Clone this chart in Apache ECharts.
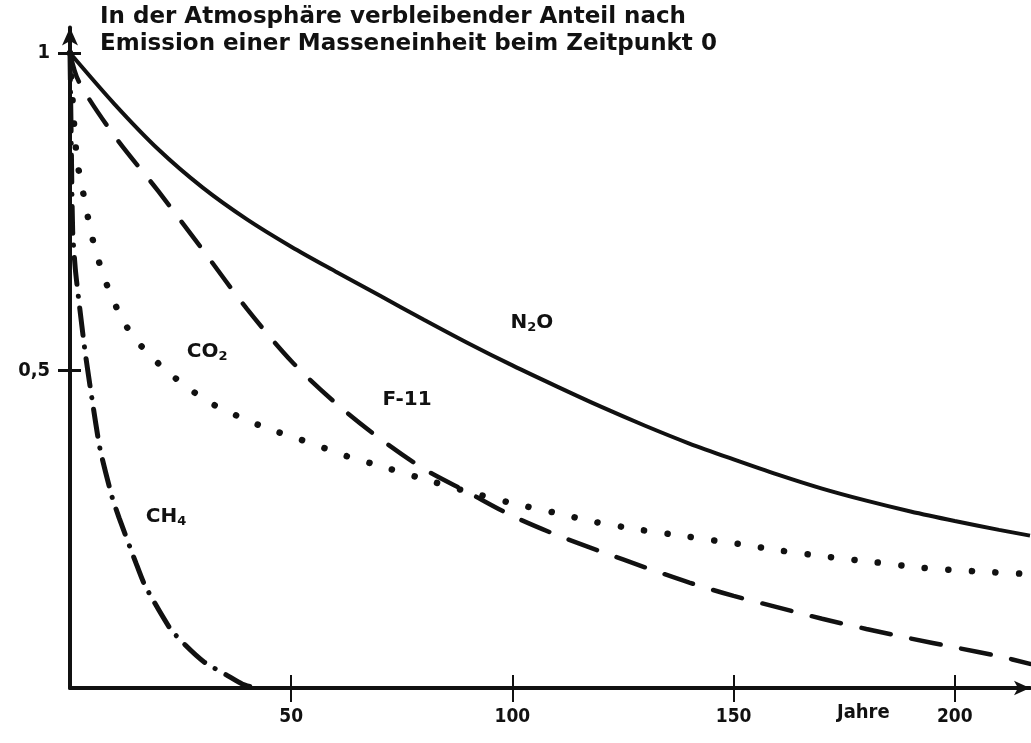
<!DOCTYPE html>
<html>
<head>
<meta charset="utf-8">
<script src="https://cdn.jsdelivr.net/npm/echarts@6/dist/echarts.min.js"></script>
<style>
html,body{margin:0;padding:0;background:#fff;}
#chart{width:1031px;height:743px;}
</style>
</head>
<body>
<div id="chart"></div>
<script>
// ---- data (years, remaining fraction) ----
const titleLines = ['In der Atmosphäre verbleibender Anteil nach', 'Emission einer Masseneinheit beim Zeitpunkt 0'];
const xTicks = [50, 100, 150, 200];
const yTicks = [0.5, 1];
const xName = 'Jahre';

const n2o = [[0,1],[10,0.92],[20,0.848],[30,0.788],[40,0.738],[50,0.695],[60,0.656],[70,0.618],[80,0.58],[90,0.543],[100,0.508],[110,0.475],[120,0.443],[130,0.413],[140,0.385],[150,0.36],[160,0.336],[170,0.314],[180,0.295],[190,0.278],[200,0.263],[210,0.249],[217,0.24]];
const f11 = [[0,1],[2,0.955],[10,0.87],[20,0.782],[30,0.69],[40,0.597],[50,0.515],[60,0.449],[70,0.393],[80,0.345],[90,0.308],[100,0.271],[110,0.241],[120,0.215],[130,0.19],[140,0.166],[150,0.145],[160,0.127],[170,0.109],[180,0.093],[190,0.078],[200,0.064],[210,0.05],[217,0.038]];
const co2 = [[0,1],[0.8,0.9],[1.6,0.83],[2.7,0.79],[3.8,0.75],[5,0.71],[6.6,0.67],[8.6,0.63],[10.8,0.595],[13.6,0.56],[17.2,0.53],[21.7,0.5],[26.2,0.475],[31.4,0.45],[36.4,0.433],[41.6,0.417],[47,0.403],[52.2,0.391],[57.4,0.378],[63,0.364],[68.5,0.353],[79,0.331],[90,0.309],[100,0.291],[109,0.277],[119,0.261],[129,0.249],[140,0.238],[151,0.227],[161,0.216],[172,0.206],[182,0.198],[193,0.189],[204,0.184],[215,0.18]];
const ch4 = [[0,1],[0.3,0.85],[0.6,0.72],[1.2,0.66],[2,0.61],[3.4,0.53],[5,0.454],[6.8,0.376],[9.5,0.301],[11.1,0.268],[14.9,0.197],[16.9,0.162],[22.6,0.094],[26,0.068],[30.3,0.041],[35.5,0.02],[39,0.006],[42,0]];

const seriesLabels = [
  {text: 'N{s|2}O', at: [104.4, 0.575]},
  {text: 'CO{s|2}', at: [31, 0.529]},
  {text: 'F-11', at: [76.2, 0.454]},
  {text: 'CH{s|4}', at: [21.7, 0.269]}
];

const FONT_C = '"DejaVu Sans Condensed", "Liberation Sans Narrow", "DejaVu Sans", sans-serif';
const FONT = '"DejaVu Sans", "Liberation Sans", sans-serif';
const INK = '#111';

const chart = echarts.init(document.getElementById('chart'), null, {renderer: 'canvas'});

function xAxisBase(extra) {
  return Object.assign({
    type: 'value', min: 0, max: 217, interval: 50, position: 'bottom',
    splitLine: {show: false},
    axisLine: {show: true, lineStyle: {color: INK, width: 4}},
    axisTick: {show: true, lineStyle: {color: INK, width: 2}},
    axisLabel: {show: false}
  }, extra);
}
function yAxisBase(extra) {
  return Object.assign({
    type: 'value', min: 0, max: 1.04, interval: 0.5, position: 'left',
    splitLine: {show: false},
    axisLine: {show: true, lineStyle: {color: INK, width: 4}},
    axisTick: {show: true, lineStyle: {color: INK, width: 2}},
    axisLabel: {show: false}
  }, extra);
}

const option = {
  backgroundColor: '#fff',
  animation: false,
  grid: {left: 70, right: 1, top: 27.6, bottom: 55, containLabel: false},
  xAxis: [
    xAxisBase({
      axisLine: {show: true, symbol: ['none', 'arrow'], symbolSize: [11, 16], lineStyle: {color: INK, width: 4}},
      axisTick: {show: true, length: 14, inside: false, lineStyle: {color: INK, width: 2},
        customValues: xTicks},
      axisLabel: {show: true, margin: 20, color: INK, fontFamily: FONT_C, fontWeight: 'bold', fontSize: 19,
        customValues: xTicks, formatter: v => String(v)}
    }),
    xAxisBase({
      axisLine: {show: false},
      axisTick: {show: true, length: 13, inside: true, lineStyle: {color: INK, width: 2}, customValues: xTicks}
    })
  ],
  yAxis: [
    yAxisBase({
      axisLine: {show: true, symbol: ['none', 'arrow'], symbolSize: [12, 18], lineStyle: {color: INK, width: 4}},
      axisTick: {show: true, length: 12, inside: false, lineStyle: {color: INK, width: 3}, customValues: yTicks},
      axisLabel: {show: true, margin: 20, color: INK, fontFamily: FONT_C, fontWeight: 'bold', fontSize: 20,
        customValues: yTicks, formatter: v => String(v).replace('.', ',')}
    }),
    yAxisBase({
      axisLine: {show: false},
      axisTick: {show: true, length: 11, inside: true, lineStyle: {color: INK, width: 3}, customValues: yTicks}
    })
  ],
  series: [
    {name: 'N2O', type: 'line', data: n2o, smooth: 0.3, showSymbol: false, symbol: 'none',
      lineStyle: {color: INK, width: 4}},
    {name: 'F-11', type: 'line', data: f11, smooth: 0.3, showSymbol: false, symbol: 'none',
      lineStyle: {color: INK, width: 4.5, type: [30, 21], cap: 'round'}},
    {name: 'CO2', type: 'line', data: co2, smooth: 0.2, showSymbol: false, symbol: 'none',
      lineStyle: {color: INK, width: 6.5, type: [0.1, 23.5], cap: 'round'}},
    {name: 'CH4', type: 'line', data: ch4, smooth: 0.2, showSymbol: false, symbol: 'none',
      lineStyle: {color: INK, width: 5, type: [27, 12, 0.1, 12], cap: 'round'}}
  ]
};
chart.setOption(option);

const graphics = [];
titleLines.forEach((t, i) => {
  graphics.push({type: 'text', left: 100, top: 6 + i * 27,
    style: {text: t, fill: INK, font: 'bold 23px ' + FONT}});
});
const jp = chart.convertToPixel({xAxisIndex: 0, yAxisIndex: 0}, [180, 0]);
graphics.push({type: 'text', x: jp[0] - 3, y: jp[1] + 15,
  style: {text: xName, fill: INK, font: 'bold 20px ' + FONT_C, align: 'center'}});
seriesLabels.forEach(l => {
  const p = chart.convertToPixel({xAxisIndex: 0, yAxisIndex: 0}, l.at);
  graphics.push({type: 'text', x: p[0], y: p[1],
    style: {text: l.text, fill: INK, font: 'bold 20px ' + FONT, align: 'center', verticalAlign: 'middle',
      rich: {s: {fill: INK, fontSize: 13, fontWeight: 'bold', fontFamily: FONT, verticalAlign: 'bottom', padding: [9, 0, 0, 0]}}}});
});
chart.setOption({graphic: graphics});
</script>
</body>
</html>
